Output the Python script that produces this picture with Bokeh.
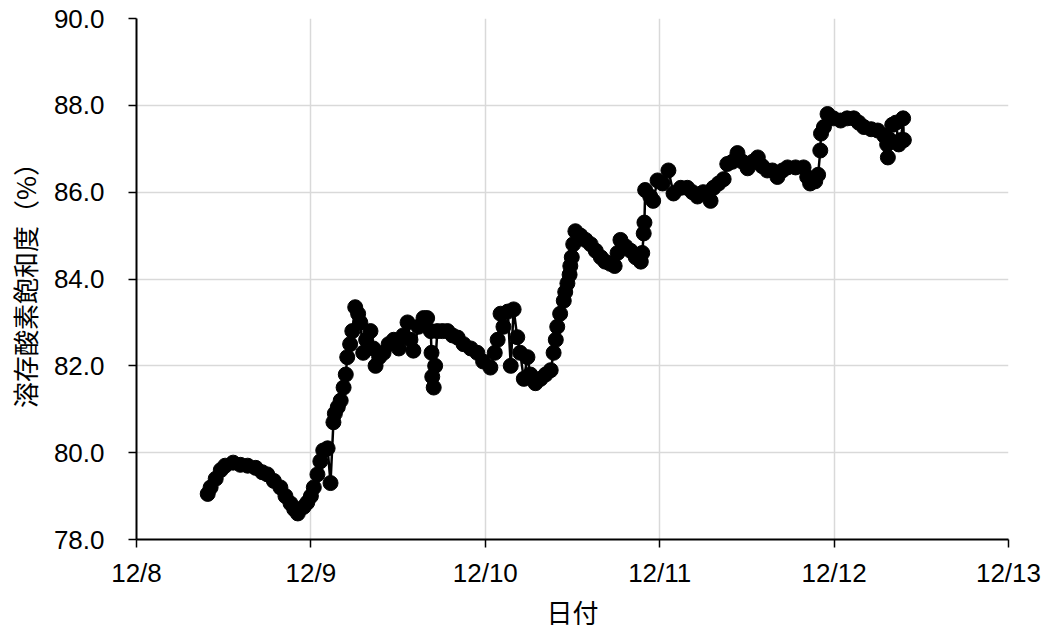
from bokeh.plotting import figure
from bokeh.models import Range1d, FixedTicker, PrintfTickFormatter, ColumnDataSource
from bokeh.embed import file_html
from bokeh.resources import INLINE

# hours since 12/8 00:00
hours = [9.8, 10.2, 10.9, 11.6, 12.2, 13.3, 14.3, 15.3, 16.4, 17.3,
         18.0, 18.9, 19.8, 20.5, 21.2, 21.7, 22.2, 23.0, 23.5, 24.0,
         24.4, 24.9, 25.3, 25.7, 26.3, 26.7, 27.1, 27.3, 27.7, 28.1,
         28.5, 28.8, 29.0, 29.4, 29.7, 30.1, 30.5, 30.8, 31.2, 31.6,
         32.2, 32.6, 32.9, 33.4, 34.0, 34.7, 35.4, 36.1, 36.7, 37.3,
         37.7, 38.1, 38.8, 39.5, 40.0, 40.5, 40.6, 40.7, 40.9, 41.1,
         41.4, 42.1, 42.8, 43.5, 44.2, 45.0, 46.0, 46.9, 47.7, 48.7,
         49.3, 49.7, 50.1, 50.5, 51.1, 51.5, 51.9, 52.4, 52.8, 53.3,
         53.8, 54.2, 54.9, 55.6, 56.3, 57.0, 57.4, 57.7, 57.9, 58.3,
         58.8, 59.0, 59.3, 59.6, 59.7, 59.9, 60.1, 60.4, 61.1, 61.8,
         62.5, 63.2, 63.9, 64.5, 65.2, 65.8, 66.2, 66.6, 67.3, 68.0,
         68.7, 69.4, 69.6, 69.8, 69.9, 70.0, 70.7, 71.1, 71.7, 72.4,
         73.2, 73.9, 74.9, 75.8, 76.5, 77.2, 78.0, 79.0, 79.4, 80.1,
         80.8, 81.3, 82.0, 82.7, 83.4, 84.1, 84.8, 85.5, 86.1, 86.8,
         87.5, 88.2, 88.9, 89.6, 90.7, 91.8, 92.3, 92.7, 93.4, 93.8,
         94.1, 94.2, 94.6, 95.1, 95.9, 96.9, 97.8, 98.7, 99.4, 100.1,
         101.1, 102.0, 102.9, 103.3, 103.4, 103.7, 104.0, 104.5, 104.9, 105.2,
         105.5, 105.6]

do_saturation = [79.05, 79.2, 79.4, 79.6, 79.7, 79.77, 79.72, 79.7, 79.65, 79.55,
                 79.5, 79.35, 79.2, 79.0, 78.83, 78.7, 78.6, 78.75, 78.85, 79.0,
                 79.2, 79.5, 79.8, 80.05, 80.1, 79.3, 80.7, 80.9, 81.05, 81.2,
                 81.5, 81.8, 82.2, 82.5, 82.8, 83.35, 83.2, 83.0, 82.3, 82.6,
                 82.8, 82.4, 82.0, 82.2, 82.3, 82.5, 82.6, 82.4, 82.7, 83.0,
                 82.6, 82.35, 82.9, 83.1, 83.1, 82.8, 82.3, 81.75, 81.5, 82.0,
                 82.8, 82.8, 82.8, 82.7, 82.65, 82.5, 82.4, 82.3, 82.1, 81.96,
                 82.3, 82.6, 83.2, 82.9, 83.25, 82.0, 83.3, 82.66, 82.3, 81.7,
                 82.2, 81.8, 81.6, 81.7, 81.8, 81.9, 82.3, 82.6, 82.9, 83.2,
                 83.5, 83.7, 83.9, 84.1, 84.3, 84.5, 84.8, 85.1, 85.0, 84.9,
                 84.8, 84.65, 84.5, 84.4, 84.35, 84.3, 84.6, 84.9, 84.75, 84.65,
                 84.5, 84.4, 84.6, 85.05, 85.3, 86.05, 85.9, 85.8, 86.27, 86.2,
                 86.5, 85.97, 86.1, 86.1, 86.0, 85.9, 86.0, 85.8, 86.1, 86.2,
                 86.3, 86.65, 86.7, 86.9, 86.7, 86.55, 86.7, 86.8, 86.6, 86.5,
                 86.5, 86.35, 86.5, 86.57, 86.57, 86.57, 86.35, 86.2, 86.25, 86.4,
                 86.96, 87.35, 87.5, 87.8, 87.7, 87.65, 87.7, 87.7, 87.6, 87.5,
                 87.45, 87.42, 87.3, 87.1, 86.8, 87.2, 87.55, 87.6, 87.1, 87.2,
                 87.7, 87.2]

day_ticks = [0, 1, 2, 3, 4, 5]
day_labels = ["12/8", "12/9", "12/10", "12/11", "12/12", "12/13"]
y_ticks = [78, 80, 82, 84, 86, 88, 90]

source = ColumnDataSource(data=dict(x=[h / 24.0 for h in hours], y=do_saturation))

p = figure(width=1043, height=632, output_backend="svg", toolbar_location=None,
           x_range=Range1d(0, 5), y_range=Range1d(78, 90),
           min_border_left=136, min_border_right=35, min_border_top=18, min_border_bottom=93)
p.outline_line_color = None
p.background_fill_color = "white"
p.border_fill_color = "white"

p.line("x", "y", source=source, line_color="black", line_width=2.5)
p.scatter("x", "y", source=source, size=15, fill_color="black", line_color="black")

tick_font = "Liberation Sans"
cjk_font = "Noto Sans CJK JP"

p.xaxis.ticker = FixedTicker(ticks=day_ticks)
p.xaxis.major_label_overrides = {t: l for t, l in zip(day_ticks, day_labels)}
p.yaxis.ticker = FixedTicker(ticks=y_ticks)
p.yaxis.formatter = PrintfTickFormatter(format="%.1f")

for ax in (p.xaxis, p.yaxis):
    ax.axis_line_color = "black"
    ax.axis_line_width = 2
    ax.major_tick_line_color = "black"
    ax.major_tick_line_width = 1.5
    ax.major_tick_out = 8
    ax.major_tick_in = 0
    ax.minor_tick_line_color = None
    ax.major_label_text_font = tick_font
    ax.major_label_text_font_size = "26px"
    ax.major_label_text_color = "black"
    ax.major_label_text_line_height = 1.0
    ax.axis_label_text_font = cjk_font
    ax.axis_label_text_font_size = "26px"
    ax.axis_label_text_font_style = "normal"
    ax.axis_label_text_color = "black"
    ax.axis_label_text_line_height = 1.0

p.xaxis.axis_label = "日付"
p.yaxis.axis_label = "溶存酸素飽和度（%）"
p.xaxis.major_label_standoff = 10
p.yaxis.major_label_standoff = 24
p.xaxis.axis_label_standoff = 2
p.yaxis.axis_label_standoff = 8

p.xgrid.ticker = FixedTicker(ticks=day_ticks)
p.ygrid.ticker = FixedTicker(ticks=y_ticks)
p.grid.grid_line_color = "#d9d9d9"
p.grid.grid_line_width = 1.5

open("out.html", "w").write(file_html(p, INLINE))
